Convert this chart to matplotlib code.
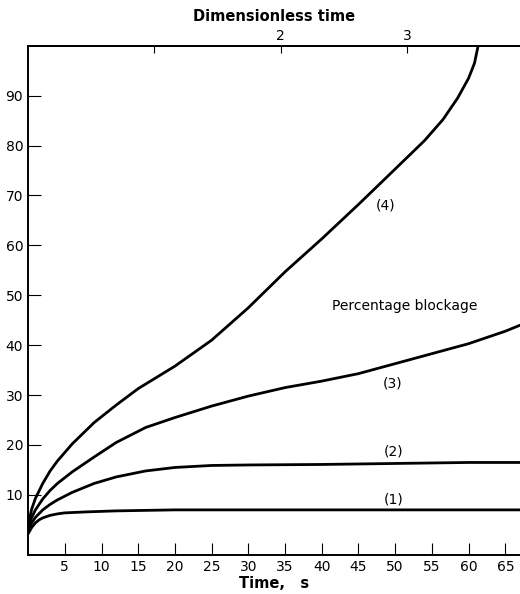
import matplotlib
matplotlib.use('Agg')
import matplotlib.pyplot as plt

# curve (1)
t1 = [0, 0.5, 1, 1.5, 2, 3, 4, 5, 8, 12, 20, 30, 40, 50, 60, 67]
v1 = [2.2, 3.5, 4.4, 5.0, 5.4, 5.9, 6.2, 6.4, 6.6, 6.8, 7.0, 7.0, 7.0, 7.0, 7.0, 7.0]

# curve (2)
t2 = [0, 0.5, 1, 2, 3, 4, 6, 9, 12, 16, 20, 25, 30, 40, 50, 60, 67]
v2 = [3, 4.4, 5.5, 7, 8.1, 9, 10.5, 12.3, 13.6, 14.8, 15.5, 15.9, 16.0, 16.1, 16.3, 16.5, 16.5]

# curve (3)
t3 = [0, 0.5, 1, 2, 3, 4, 6, 9, 12, 16, 20, 25, 30, 35, 40, 45, 50, 55, 60, 65, 67]
v3 = [3.5, 5.5, 7, 9.2, 10.9, 12.3, 14.6, 17.6, 20.5, 23.5, 25.5, 27.8, 29.8, 31.5, 32.8,
      34.3, 36.3, 38.3, 40.3, 42.8, 44]

# curve (4)
t4 = [0, 0.5, 1, 2, 3, 4, 6, 9, 12, 15, 20, 25, 30, 35, 40, 45, 50, 54, 56.5, 58.5,
      60, 60.8, 61.3]
v4 = [4, 7.2, 9.3, 12.3, 14.8, 16.8, 20.2, 24.5, 28.0, 31.3, 35.8, 41.0, 47.5, 54.7, 61.3,
      68.2, 75.3, 81.0, 85.2, 89.5, 93.5, 96.5, 100]

curve_labels = ['(1)', '(2)', '(3)', '(4)']
label_pos = [(49.8, 9.0), (49.8, 18.6), (49.6, 32.4), (48.7, 68.0)]

x_ticks = list(range(5, 70, 5))
y_ticks = list(range(10, 100, 10))
top_ticks = [1, 2, 3]
top_labels = ['', '2', '3']
SCALE = 17.2  # seconds per dimensionless time unit

plt.rcParams['font.family'] = 'DejaVu Sans'
fig = plt.figure(figsize=(5.2, 5.94), dpi=100)
ax = fig.add_axes([0.054, 0.066, 0.946, 0.857])

for t, v in [(t1, v1), (t2, v2), (t3, v3), (t4, v4)]:
    ax.plot(t, v, color='black', lw=2.0, solid_capstyle='round', solid_joinstyle='round')

for lab, (x, y) in zip(curve_labels, label_pos):
    ax.text(x, y, lab, fontsize=10, fontweight='medium', ha='center', va='center')
ax.text(51.3, 47.8, 'Percentage blockage', fontsize=10, fontweight='medium',
        ha='center', va='center')

ax.set_xlim(0, 67)
ax.set_ylim(-2, 100)
ax.set_xticks(x_ticks)
ax.set_yticks(y_ticks)
ax.tick_params(direction='in', length=9, width=0.8, labelsize=10, top=False, right=False)
ax.tick_params(axis='x', pad=4)
ax.spines['right'].set_visible(False)
for s in ['left', 'bottom', 'top']:
    ax.spines[s].set_linewidth(1.4)
ax.set_xlabel('Time,   s', fontsize=10.5, fontweight='bold', labelpad=1)

sec = ax.secondary_xaxis('top', functions=(lambda t: t / SCALE, lambda d: d * SCALE))
sec.set_xticks(top_ticks)
sec.set_xticklabels(top_labels)
sec.tick_params(direction='in', length=5, width=0.8, labelsize=10, pad=2)
sec.spines['top'].set_linewidth(1.4)
sec.set_xlabel('Dimensionless time', fontsize=10.5, fontweight='bold', labelpad=6)

fig.savefig('out.png', dpi=100)
